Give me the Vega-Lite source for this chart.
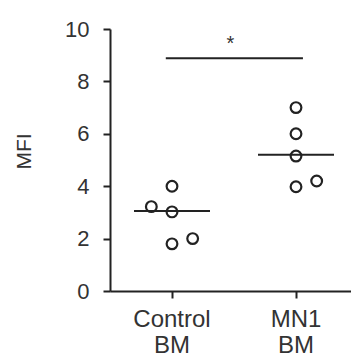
{
  "$schema": "https://vega.github.io/schema/vega-lite/v6.json",
  "autosize": "none",
  "width": 248,
  "height": 262,
  "padding": {"left": 110, "top": 29, "right": 0, "bottom": 71},
  "background": "white",
  "config": {
    "view": {"stroke": null},
    "font": "Liberation Sans",
    "scale": {"offsetBandPaddingInner": 0, "offsetBandPaddingOuter": 0},
    "axis": {"grid": false, "domainColor": "#222", "domainWidth": 2, "tickColor": "#222", "tickWidth": 2, "labelColor": "#333", "titleColor": "#333", "labelFont": "Liberation Sans", "titleFont": "Liberation Sans", "titleFontWeight": "normal"}
  },
  "datasets": {
    "points": [
      {"group": "Control BM", "col": "L", "MFI": 3.22},
      {"group": "Control BM", "col": "C", "MFI": 4.0},
      {"group": "Control BM", "col": "C", "MFI": 3.02},
      {"group": "Control BM", "col": "C", "MFI": 1.8},
      {"group": "Control BM", "col": "R", "MFI": 2.0},
      {"group": "MN1 BM", "col": "C", "MFI": 7.0},
      {"group": "MN1 BM", "col": "C", "MFI": 6.0},
      {"group": "MN1 BM", "col": "C", "MFI": 5.15},
      {"group": "MN1 BM", "col": "C", "MFI": 3.98},
      {"group": "MN1 BM", "col": "R", "MFI": 4.2}
    ],
    "centres": [
      {"group": "Control BM", "MFI": 3.05},
      {"group": "MN1 BM", "MFI": 5.2}
    ],
    "sig": [
      {"from": "Control BM", "to": "MN1 BM", "MFI": 8.88, "label": "*", "labelY": 9.2}
    ]
  },
  "layer": [
    {
      "data": {"name": "points"},
      "mark": {"type": "point", "shape": "circle", "filled": false, "stroke": "#222", "strokeWidth": 2.2, "size": 115, "opacity": 1},
      "encoding": {
        "x": {"field": "group", "type": "nominal", "scale": {"domain": ["Control BM", "MN1 BM"], "paddingInner": 0, "paddingOuter": 0},
          "axis": {"title": null, "labelAngle": 0, "labelFontSize": 24, "labelPadding": 9, "tickSize": 7, "labelExpr": "split(datum.label, ' ')", "labelLineHeight": 26, "labelBaseline": "top"}},
        "xOffset": {"field": "col", "type": "nominal", "scale": {"domain": ["LLL", "LL", "L", "C", "R", "RR", "RRR"], "paddingInner": 0, "paddingOuter": 0}},
        "y": {"field": "MFI", "type": "quantitative", "scale": {"domain": [0, 10], "nice": false},
          "axis": {"title": "MFI", "values": [0, 2, 4, 6, 8, 10], "tickSize": 7, "labelFontSize": 22, "labelPadding": 14, "titleFontSize": 21, "titlePadding": 30, "titleY": 122}}
      }
    },
    {
      "data": {"name": "centres"},
      "mark": {"type": "tick", "color": "#222", "thickness": 2, "size": 76, "opacity": 1},
      "encoding": {
        "x": {"field": "group", "type": "nominal"},
        "y": {"field": "MFI", "type": "quantitative"}
      }
    },
    {
      "data": {"name": "sig"},
      "mark": {"type": "rule", "color": "#222", "strokeWidth": 2},
      "encoding": {
        "x": {"field": "from", "type": "nominal", "bandPosition": 0.45},
        "x2": {"field": "to", "bandPosition": 0.556},
        "y": {"field": "MFI", "type": "quantitative"}
      }
    },
    {
      "data": {"name": "sig"},
      "mark": {"type": "text", "fontSize": 20, "color": "#333", "baseline": "alphabetic", "align": "center"},
      "encoding": {
        "x": {"field": "from", "type": "nominal", "bandPosition": 0.97},
        "y": {"field": "labelY", "type": "quantitative"},
        "text": {"field": "label"}
      }
    }
  ]
}
